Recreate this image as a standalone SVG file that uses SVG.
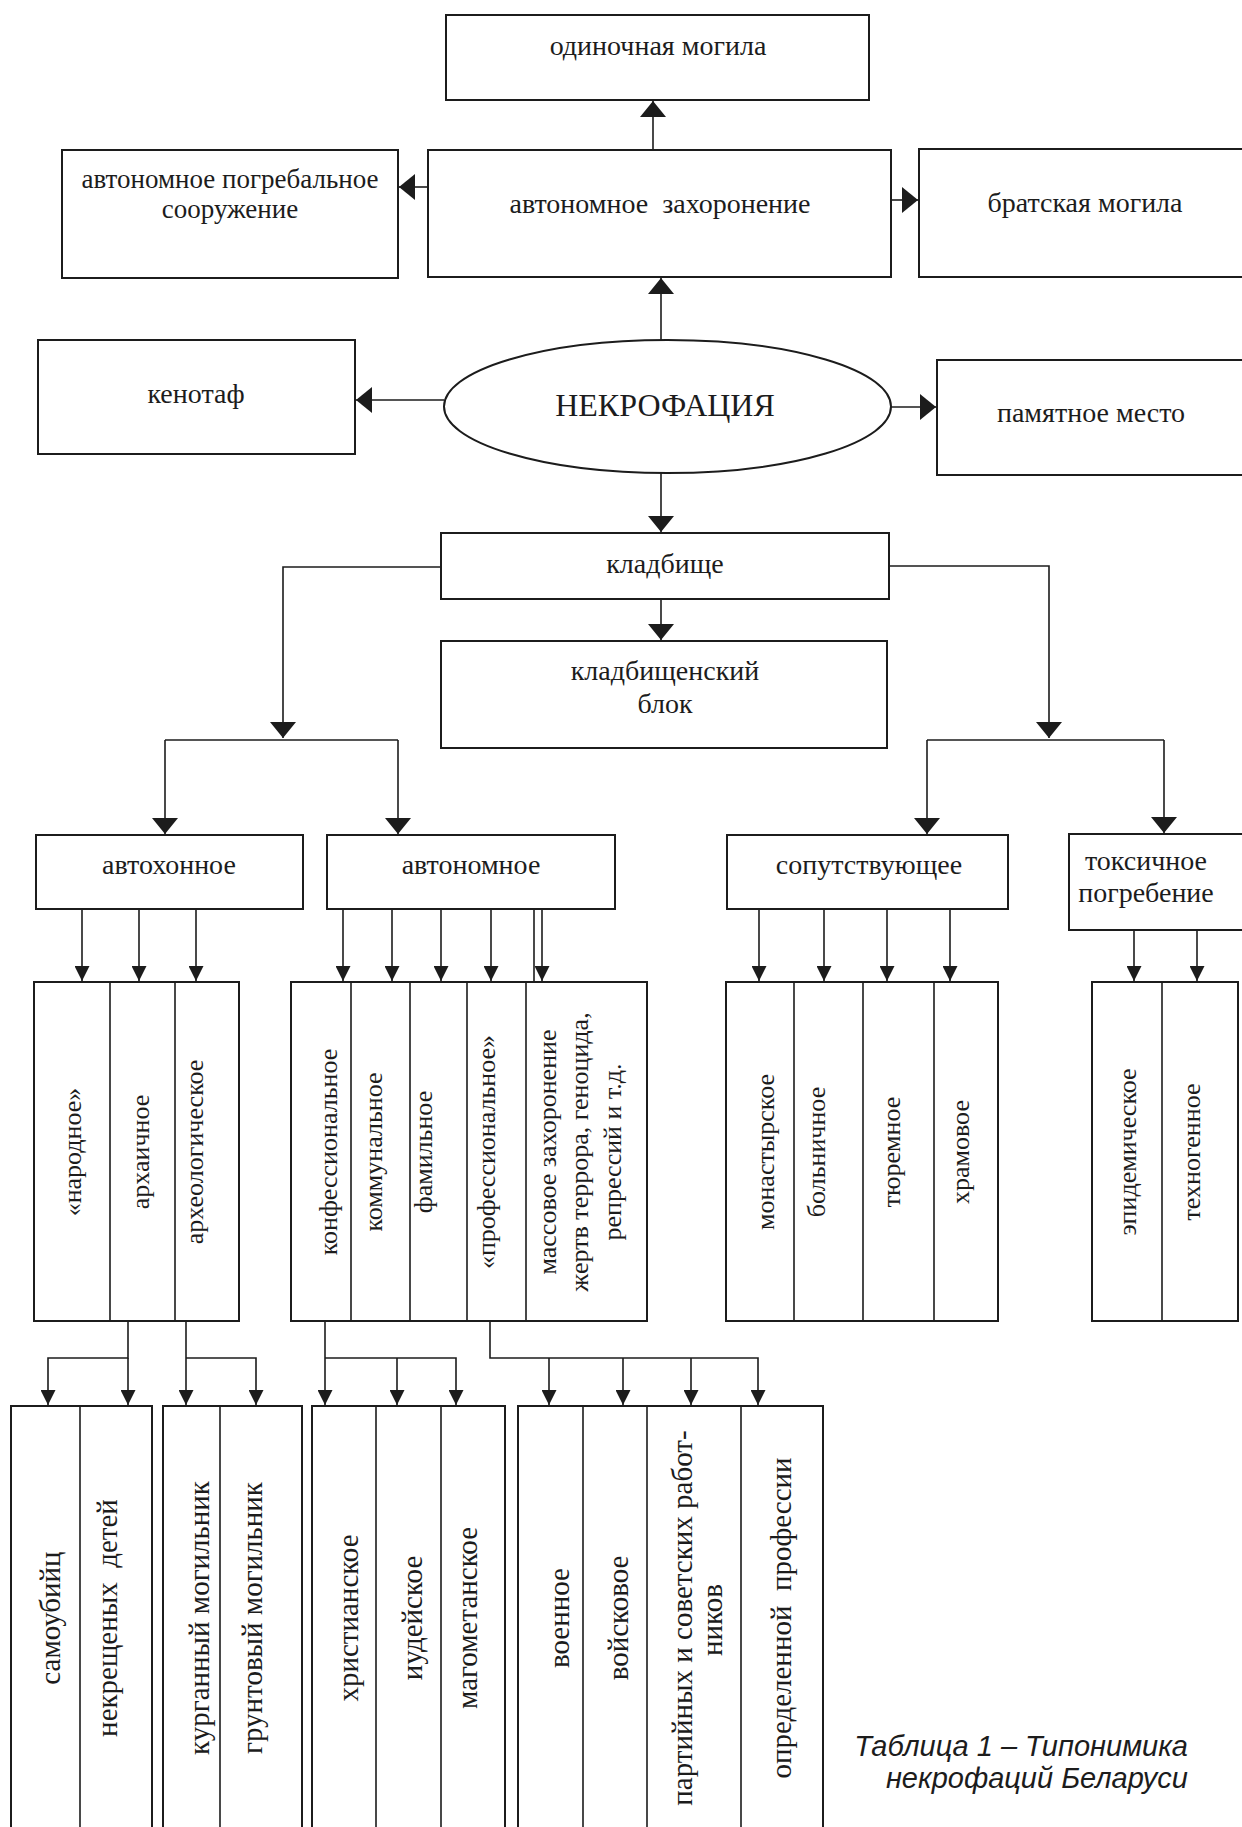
<svg xmlns="http://www.w3.org/2000/svg" width="1242" height="1827" viewBox="0 0 1242 1827">
<style>
.box{fill:#fff;stroke:#1c1c1c;stroke-width:2}
.div{fill:none;stroke:#1c1c1c;stroke-width:1.6}
.ln{fill:none;stroke:#1c1c1c;stroke-width:1.6}
.big{marker-end:url(#ab)}
.sm{marker-end:url(#as)}
text{font-family:"Liberation Serif","Times New Roman",serif;fill:#1c1c1c}
.h{font-size:28px;text-anchor:middle}
.v{font-size:26px;text-anchor:middle}
.v2{font-size:29px;text-anchor:middle}
.cap{font-family:"Liberation Sans",Arial,sans-serif;font-style:italic;font-size:29px;text-anchor:end}
</style>
<defs>
<marker id="ab" markerUnits="userSpaceOnUse" viewBox="0 0 16 26" markerWidth="16" markerHeight="26" refX="16" refY="13" orient="auto"><path d="M0,0 L16,13 L0,26 Z" fill="#1c1c1c"/></marker>
<marker id="as" markerUnits="userSpaceOnUse" viewBox="0 0 15 15" markerWidth="15" markerHeight="15" refX="15" refY="7.5" orient="auto"><path d="M0,0 L15,7.5 L0,15 Z" fill="#1c1c1c"/></marker>
</defs>
<rect width="1242" height="1827" fill="#fff"/>

<g id="connectors">
<path class="ln big" d="M653,150 V101"/>
<path class="ln big" d="M428,187 H399"/>
<path class="ln big" d="M891,200 H918"/>
<path class="ln big" d="M661,340 V278"/>
<path class="ln big" d="M444,400 H356"/>
<path class="ln big" d="M891,407 H936"/>
<path class="ln big" d="M661,473 V532"/>
<path class="ln big" d="M661,599 V640"/>
<path class="ln big" d="M441,567 H283 V738"/>
<path class="ln" d="M165,740 H398"/>
<path class="ln big" d="M165,740 V834"/>
<path class="ln big" d="M398,740 V834"/>
<path class="ln big" d="M889,566 H1049 V738"/>
<path class="ln" d="M927,740 H1164"/>
<path class="ln big" d="M927,740 V834"/>
<path class="ln big" d="M1164,740 V833"/>
<path class="ln sm" d="M82,909 V981"/>
<path class="ln sm" d="M139,909 V981"/>
<path class="ln sm" d="M196,909 V981"/>
<path class="ln sm" d="M343,909 V981"/>
<path class="ln sm" d="M392,909 V981"/>
<path class="ln sm" d="M441,909 V981"/>
<path class="ln sm" d="M491,909 V981"/>
<path class="ln" d="M534,909 V982"/>
<path class="ln sm" d="M542,909 V981"/>
<path class="ln sm" d="M759,909 V981"/>
<path class="ln sm" d="M824,909 V981"/>
<path class="ln sm" d="M887,909 V981"/>
<path class="ln sm" d="M950,909 V981"/>
<path class="ln sm" d="M1134,930 V981"/>
<path class="ln sm" d="M1197,930 V981"/>
<path class="ln sm" d="M128,1321 V1358 H48 V1405"/>
<path class="ln sm" d="M128,1358 V1405"/>
<path class="ln sm" d="M186,1321 V1405"/>
<path class="ln sm" d="M186,1358 H256 V1405"/>
<path class="ln sm" d="M325,1321 V1405"/>
<path class="ln sm" d="M325,1358 H456 V1405"/>
<path class="ln sm" d="M397,1358 V1405"/>
<path class="ln sm" d="M490,1321 V1358 H758 V1405"/>
<path class="ln sm" d="M549,1358 V1405"/>
<path class="ln sm" d="M623,1358 V1405"/>
<path class="ln sm" d="M691,1358 V1405"/>
</g>

<g id="n-odinochnaya">
<rect class="box" x="446" y="15" width="423" height="85"/>
<text class="h" x="658" y="55">одиночная могила</text>
</g>
<g id="n-pogrebalnoe">
<rect class="box" x="62" y="150" width="336" height="128"/>
<text class="h" x="230" y="188" style="font-size:27px">автономное погребальное</text>
<text class="h" x="230" y="218" style="font-size:27px">сооружение</text>
</g>
<g id="n-avtonomnoe-zah">
<rect class="box" x="428" y="150" width="463" height="127"/>
<text class="h" x="660" y="213" xml:space="preserve">автономное  захоронение</text>
</g>
<g id="n-bratskaya">
<rect class="box" x="919" y="149" width="340" height="128"/>
<text class="h" x="1085" y="212">братская могила</text>
</g>
<g id="n-kenotaf">
<rect class="box" x="38" y="340" width="317" height="114"/>
<text class="h" x="196" y="403">кенотаф</text>
</g>
<g id="n-nekrofaciya">
<ellipse cx="667.5" cy="406.5" rx="223.5" ry="66.5" fill="#fff" stroke="#1c1c1c" stroke-width="2"/>
<text x="665" y="416" style="font-size:32px;text-anchor:middle">НЕКРОФАЦИЯ</text>
</g>
<g id="n-pamyatnoe">
<rect class="box" x="937" y="360" width="322" height="115"/>
<text class="h" x="1091" y="422">памятное место</text>
</g>
<g id="n-kladbische">
<rect class="box" x="441" y="533" width="448" height="66"/>
<text class="h" x="665" y="573">кладбище</text>
</g>
<g id="n-blok">
<rect class="box" x="441" y="641" width="446" height="107"/>
<text class="h" x="665" y="680">кладбищенский</text>
<text class="h" x="665" y="713">блок</text>
</g>
<g id="n-avtohonnoe">
<rect class="box" x="36" y="835" width="267" height="74"/>
<text class="h" x="169" y="874">автохонное</text>
</g>
<g id="n-avtonomnoe">
<rect class="box" x="327" y="835" width="288" height="74"/>
<text class="h" x="471" y="874">автономное</text>
</g>
<g id="n-soputstv">
<rect class="box" x="727" y="835" width="281" height="74"/>
<text class="h" x="869" y="874">сопутствующее</text>
</g>
<g id="n-toksichnoe">
<rect class="box" x="1069" y="834" width="190" height="96"/>
<text class="h" x="1146" y="870">токсичное</text>
<text class="h" x="1146" y="902">погребение</text>
</g>

<g id="n-avtohonnoe-types">
<rect class="box" x="34" y="982" width="205" height="339"/>
<path class="div" d="M110,982 V1321 M175,982 V1321"/>
<text class="v" transform="translate(81,1152) rotate(-90)">«народное»</text>
<text class="v" transform="translate(149,1152) rotate(-90)">архаичное</text>
<text class="v" transform="translate(203,1152) rotate(-90)">археологическое</text>
</g>
<g id="n-avtonomnoe-types">
<rect class="box" x="291" y="982" width="356" height="339"/>
<path class="div" d="M351,982 V1321 M410,982 V1321 M467,982 V1321 M526,982 V1321"/>
<text class="v" transform="translate(337,1152) rotate(-90)">конфессиональное</text>
<text class="v" transform="translate(382,1152) rotate(-90)">коммунальное</text>
<text class="v" transform="translate(432,1152) rotate(-90)">фамильное</text>
<text class="v" transform="translate(495,1152) rotate(-90)">«профессиональное»</text>
<text class="v" transform="translate(556,1152) rotate(-90)">массовое захоронение</text>
<text class="v" transform="translate(588,1152) rotate(-90)">жертв террора, геноцида,</text>
<text class="v" transform="translate(621,1152) rotate(-90)">репрессий и т.д.</text>
</g>
<g id="n-soputstv-types">
<rect class="box" x="726" y="982" width="272" height="339"/>
<path class="div" d="M794,982 V1321 M863,982 V1321 M934,982 V1321"/>
<text class="v" transform="translate(774,1152) rotate(-90)">монастырское</text>
<text class="v" transform="translate(825,1152) rotate(-90)">больничное</text>
<text class="v" transform="translate(900,1152) rotate(-90)">тюремное</text>
<text class="v" transform="translate(969,1152) rotate(-90)">храмовое</text>
</g>
<g id="n-toksichnoe-types">
<rect class="box" x="1092" y="982" width="146" height="339"/>
<path class="div" d="M1162,982 V1321"/>
<text class="v" transform="translate(1136,1152) rotate(-90)">эпидемическое</text>
<text class="v" transform="translate(1200,1152) rotate(-90)">техногенное</text>
</g>

<g id="n-narodnoe-sub">
<rect class="box" x="11" y="1406" width="141" height="430"/>
<path class="div" d="M80,1406 V1836"/>
<text class="v2" transform="translate(60,1618) rotate(-90)">самоубийц</text>
<text class="v2" transform="translate(117,1618) rotate(-90)" xml:space="preserve">некрещеных  детей</text>
</g>
<g id="n-arheolog-sub">
<rect class="box" x="163" y="1406" width="139" height="430"/>
<path class="div" d="M220,1406 V1836"/>
<text class="v2" transform="translate(209,1618) rotate(-90)">курганный могильник</text>
<text class="v2" transform="translate(262,1618) rotate(-90)">грунтовый могильник</text>
</g>
<g id="n-konfess-sub">
<rect class="box" x="312" y="1406" width="193" height="430"/>
<path class="div" d="M376,1406 V1836 M441,1406 V1836"/>
<text class="v2" transform="translate(358,1618) rotate(-90)">христианское</text>
<text class="v2" transform="translate(422,1618) rotate(-90)">иудейское</text>
<text class="v2" transform="translate(477,1618) rotate(-90)">магометанское</text>
</g>
<g id="n-prof-sub">
<rect class="box" x="518" y="1406" width="305" height="430"/>
<path class="div" d="M583,1406 V1836 M647,1406 V1836 M741,1406 V1836"/>
<text class="v2" transform="translate(569,1618) rotate(-90)">военное</text>
<text class="v2" transform="translate(628,1618) rotate(-90)">войсковое</text>
<text class="v2" transform="translate(692,1618) rotate(-90)">партийных и советских работ-</text>
<text class="v2" transform="translate(722,1620) rotate(-90)">ников</text>
<text class="v2" transform="translate(791,1618) rotate(-90)" xml:space="preserve">определенной  профессии</text>
</g>

<g id="caption">
<text class="cap" x="1188" y="1756">Таблица 1 – Типонимика</text>
<text class="cap" x="1188" y="1788">некрофаций Беларуси</text>
</g>
</svg>
